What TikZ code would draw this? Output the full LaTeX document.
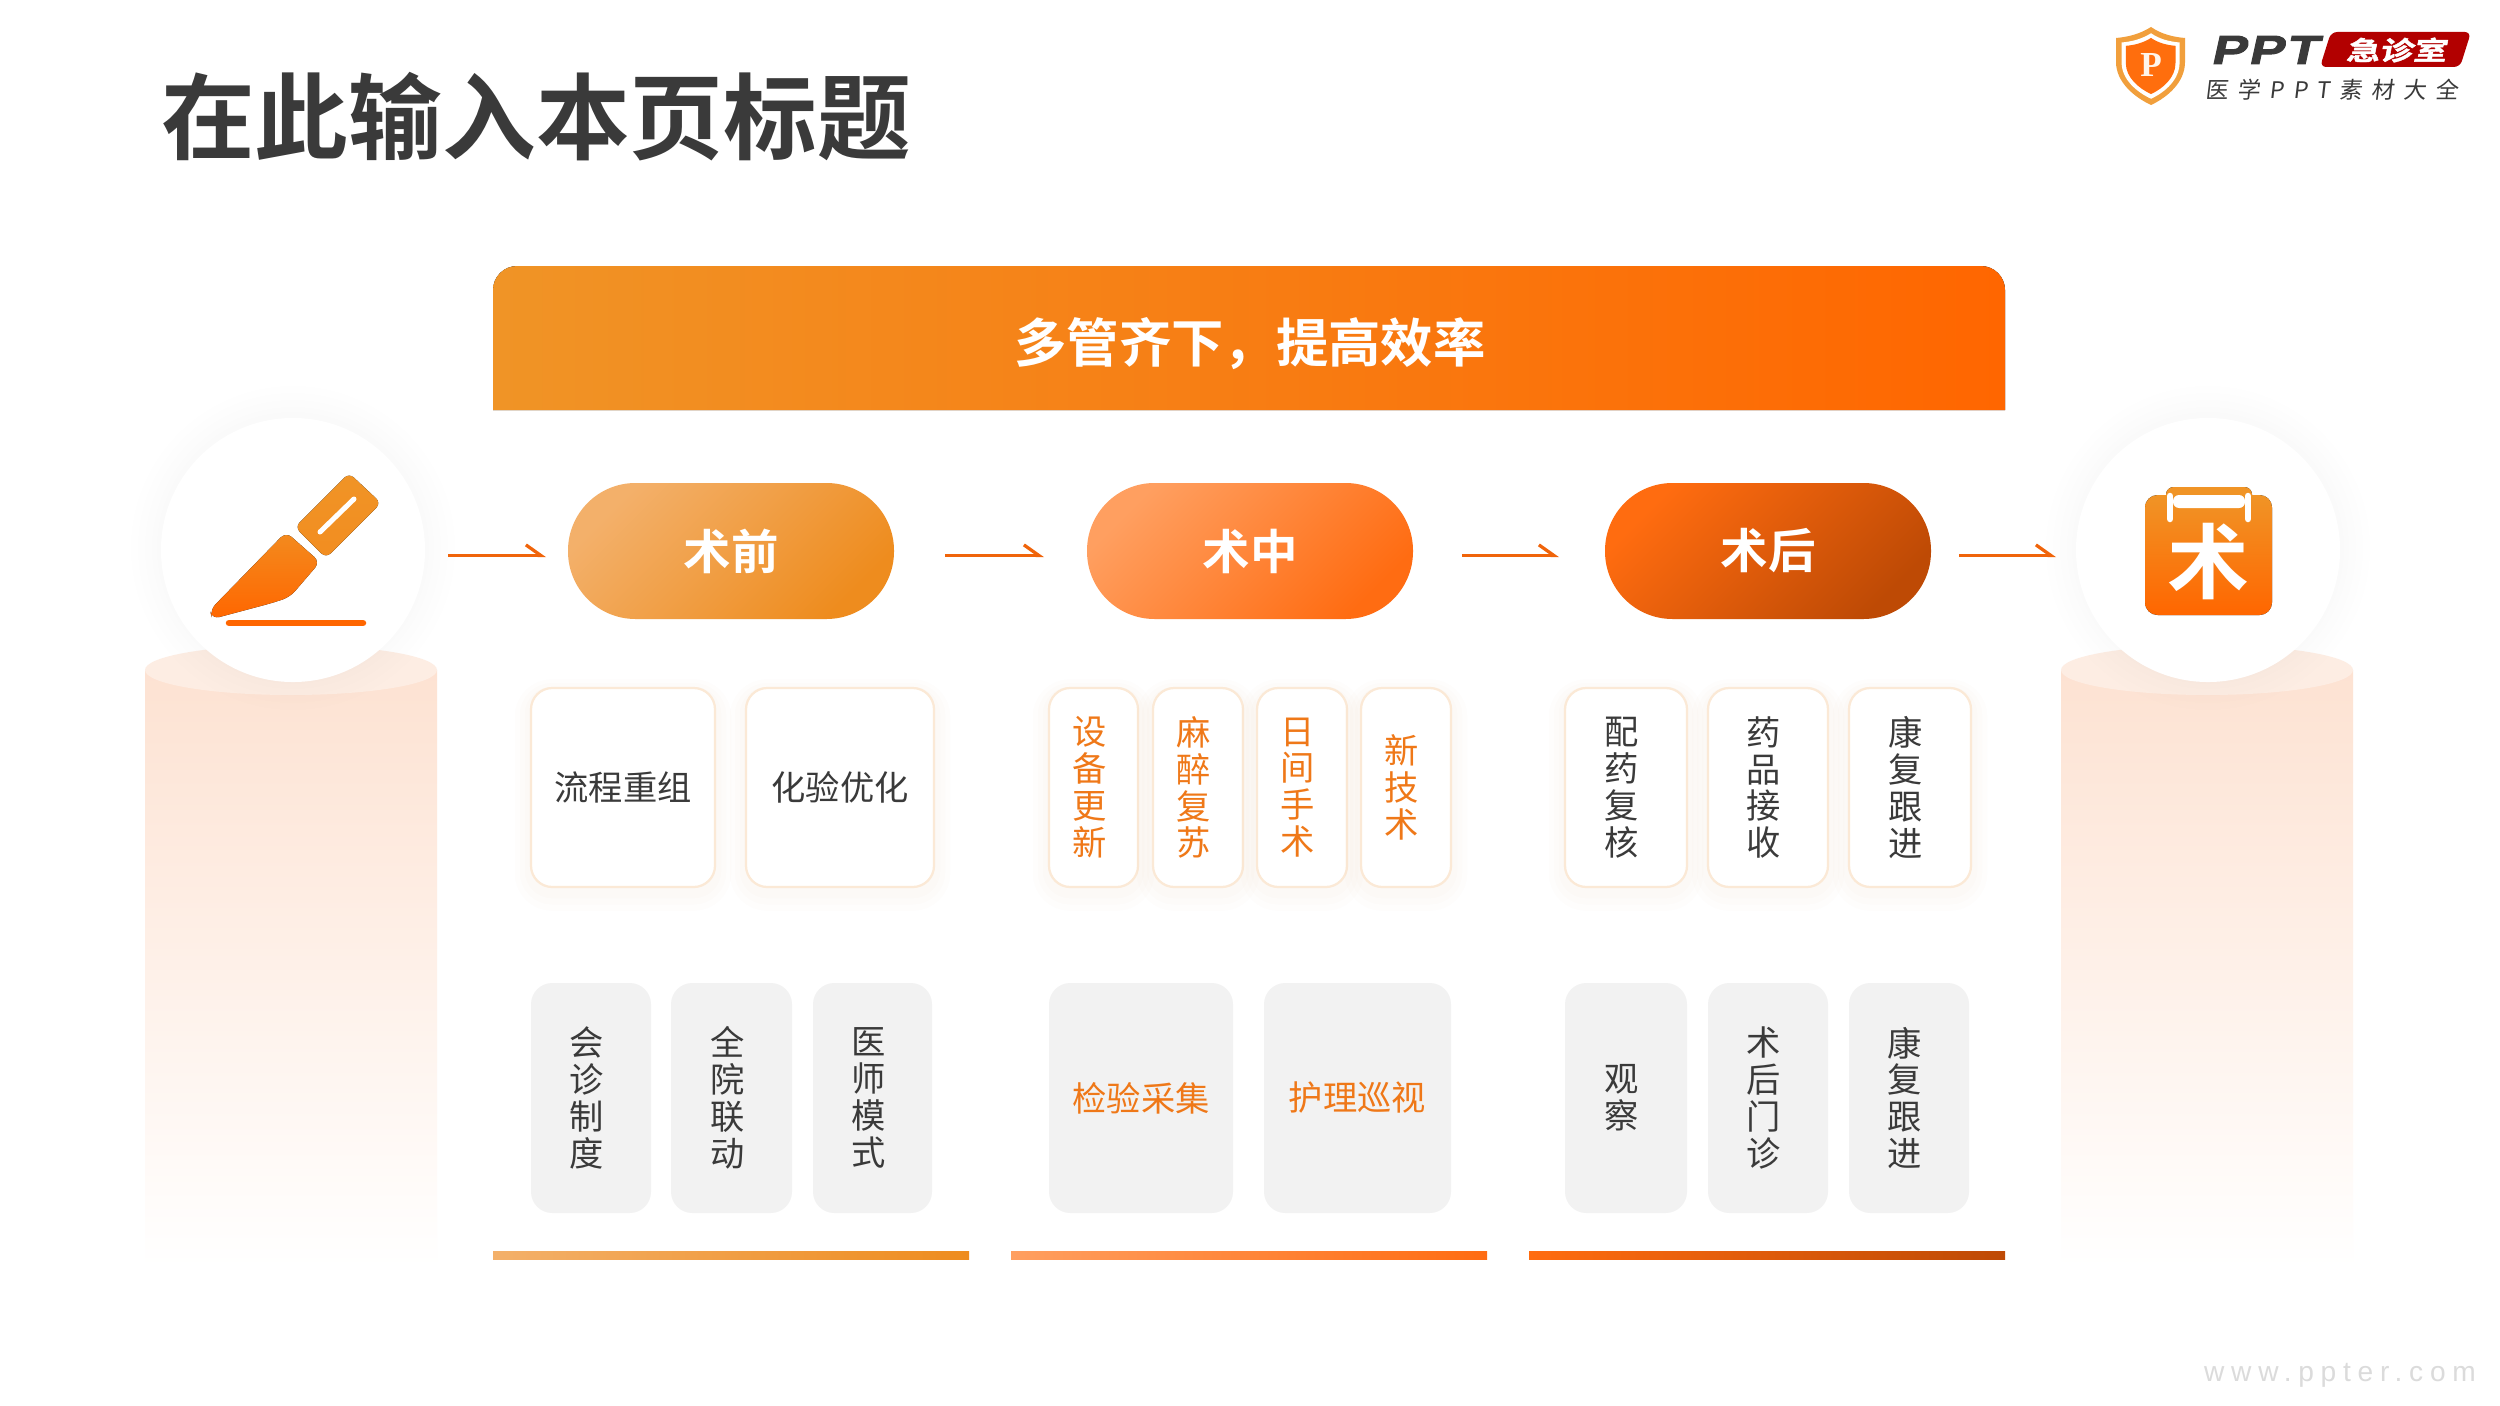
\documentclass[tikz,border=0pt]{standalone}
\usepackage{fontspec}
\usetikzlibrary{arrows.meta}
\setmainfont{Liberation Sans}
\newfontfamily\cjk{Noto Sans CJK SC}
\newfontfamily\cjkb{Noto Sans CJK SC Bold}
\newfontfamily\cjklogo[FakeSlant=0.15,FakeBold=1.5]{Noto Sans CJK SC Bold}
\newfontfamily\cjksub[FakeSlant=0.12,LetterSpace=40]{Noto Sans CJK SC}
\newfontfamily\logolat[FakeSlant=0.22,FakeStretch=1.3,LetterSpace=6,FakeBold=2.5]{Liberation Sans Bold}
\newfontfamily\pserif{Liberation Serif Bold}
\newfontfamily\wmfont[LetterSpace=24]{Liberation Sans}
\definecolor{ink}{HTML}{3A3A3A}
\definecolor{hot}{HTML}{EF7818}
\definecolor{line}{HTML}{F0640A}
\definecolor{ringc}{HTML}{FBE9D6}
\definecolor{grayb}{HTML}{F2F2F2}
\definecolor{aa}{HTML}{F3B06A}\definecolor{ab}{HTML}{EE8C1E}
\definecolor{ba}{HTML}{FF9F60}\definecolor{bb}{HTML}{FF6C12}
\definecolor{ca}{HTML}{FF6C10}\definecolor{cb}{HTML}{BE4A05}
\definecolor{ha}{HTML}{F09426}\definecolor{hb}{HTML}{FF6600}
\definecolor{peda}{HTML}{FDE2D2}\definecolor{pedb}{HTML}{FDEDE3}
\tikzset{
  softbox/.style={rectangle,rounded corners=0.85cm,fill=white,draw=ringc,line width=0.09cm,
    font=\fontsize{39}{41}\cjk,text=ink,
    preaction={draw=hot,draw opacity=0.010,line width=1.3cm,fill=none,transform canvas={yshift=-0.3cm}},
    preaction={draw=hot,draw opacity=0.010,line width=0.9cm,fill=none,transform canvas={yshift=-0.25cm}},
    preaction={draw=hot,draw opacity=0.012,line width=0.5cm,fill=none,transform canvas={yshift=-0.2cm}}},
  graybox/.style={rectangle,rounded corners=0.85cm,fill=grayb,font=\fontsize{39}{41}\cjk,text=ink},
  hottext/.style={text=hot},
  pill/.style={rectangle,rounded corners=2.7cm,font=\fontsize{54}{56}\cjkb,text=white,shading angle=45},
  harrow/.style={draw=line,line width=0.13cm,-{Straight Barb[harpoon,length=0.6cm,width=0.85cm,line width=0.13cm]}},
  whitecirc/.style={circle,fill=white,minimum size=10.56cm,inner sep=0},
  bar/.style={rectangle,inner sep=0,minimum height=0.32cm},
}
\newcommand\bx[7]{%
  \pgfmathsetmacro\bxw{(#3-#2)*0.04}%
  \pgfmathsetmacro\bxh{(#5-#4)*0.04}%
  \pgfmathsetmacro\bxx{(#3+#2)/2}%
  \pgfmathsetmacro\bxy{(#5+#4)/2}%
  \node[#6,inner sep=0,minimum width=\bxw cm,minimum height=\bxh cm] (#1) at (\bxx,\bxy) {#7};}
% vertical text: stack of characters at a fixed pitch, nudged left inside its box
\newcommand\vt[1]{\hbox{\vbox{\let\\\cr\baselineskip=42pt\lineskip=0pt\lineskiplimit=-1000pt\halign{\hfil##\hfil\cr#1\crcr}}\kern0.32cm}}
\newcommand\shieldp{(2151,27) .. controls (2140,34) and (2128,37) .. (2116,38) -- (2116,62) .. controls (2116,82) and (2134,97) .. (2151,105) .. controls (2168,97) and (2185,82) .. (2185,62) -- (2185,38) .. controls (2173,37) and (2161,34) .. (2151,27) -- cycle}
\begin{document}
\begin{tikzpicture}[x=0.04cm,y=-0.04cm]
\useasboundingbox (0,0) rectangle (2500,1406);
\fill[white] (0,0) rectangle (2500,1406);
% title
\node[anchor=center,font=\fontsize{106.6}{110}\cjkb,text=ink,inner sep=0] (title) at (536,116.5) {在此输入本页标题};
% logo
\fill[ha!90!white] \shieldp;
\fill[white,scale around={0.84:(2151,66)}] \shieldp;
\fill[hb!95!white,scale around={0.72:(2151,66)}] \shieldp;
\node[font=\fontsize{40}{40}\pserif,text=white!92!orange,inner sep=0] (logop) at (2151,65) {P};
\node[font=\fontsize{46}{46}\logolat,text=ink,inner sep=0] (logoppt) at (2264,50) {PPT};
\fill[fill=red!70!black,rounded corners=0.25cm] (2331,32) -- (2471,32) -- (2460,67) -- (2320,67) -- cycle;
\node[font=\fontsize{38}{38}\cjklogo,text=white,inner sep=0,yscale=0.78] (logojz) at (2396,50) {急诊室};
\node[font=\fontsize{26}{26}\cjksub,text=ink,inner sep=0] (logosub) at (2332,90) {医学PPT素材大全};
% header band
\fill[left color=ha,right color=hb,rounded corners=0.96cm] (493,410) [sharp corners] -- (493,400) [rounded corners=0.96cm] -- (493,266) -- (2005,266) [sharp corners] -- (2005,410) -- cycle;
\node[font=\fontsize{59.6}{62}\cjkb,text=white,inner sep=0] (head) at (1250,343.5) {多管齐下，提高效率};
% pedestals
\fill[top color=peda,bottom color=white] (145,670) rectangle (437,1268);
\fill[pedb] (291,670) ellipse [x radius=146,y radius=25];
\fill[top color=peda,bottom color=white] (2061,670) rectangle (2353,1268);
\fill[pedb] (2207,670) ellipse [x radius=146,y radius=25];
% icon circles
\foreach \cx in {293,2208}{
  \foreach \r in {162,155,148,141,136}{
    \fill[hot,opacity=0.003] (\cx,548) circle (\r);
  }
}
\node[whitecirc] (cl) at (293,550) {};
\node[whitecirc] (cr) at (2208,550) {};
% scalpel
\fill[top color=ha,bottom color=ha!85!hb,rounded corners=0.26cm] (349,473) -- (381,503) -- (326,558) -- (295,527) -- cycle;
\draw[white,line width=0.2cm,line cap=round] (320,532) -- (354,499);
\fill[top color=ha!80!hb,bottom color=hb,rounded corners=0.3cm] (286,532) -- (320,562) -- (290,597) -- (272,603) -- (212,619) -- (210,610) -- cycle;
\draw[hb,line width=0.26cm,line cap=round] (229,623) -- (363,623);
% surgery badge
\fill[top color=ha,bottom color=ha,rounded corners=0.3cm] (2166,487) rectangle (2252,515);
\fill[top color=ha,bottom color=hb,rounded corners=0.5cm] (2145,495) rectangle (2272,615);
\draw[white,line width=0.26cm,line cap=round] (2170,496) -- (2170,519);
\draw[white,line width=0.26cm,line cap=round] (2248,496) -- (2248,519);
\fill[white,rounded corners=0.24cm] (2173,495) rectangle (2245,508);
\node[font=\fontsize{93}{93}\cjkb,text=white,inner sep=0] (shu) at (2208,562) {术};
% phase pills
\bx{pre}{568}{894}{483}{619}{pill,top color=aa,bottom color=ab,shading angle=45}{术前}
\bx{mid}{1087}{1413}{483}{619}{pill,top color=ba,bottom color=bb,shading angle=45}{术中}
\bx{post}{1605}{1931}{483}{619}{pill,top color=ca,bottom color=cb,shading angle=45}{术后}
% arrows
\coordinate (a1s) at (448,555.5); \coordinate (a1e) at (546,555.5);
\coordinate (a2s) at (945,555.5); \coordinate (a2e) at (1044,555.5);
\coordinate (a3s) at (1462,555.5); \coordinate (a3e) at (1559,555.5);
\coordinate (a4s) at (1959,555.5); \coordinate (a4e) at (2056,555.5);
\draw[harrow] (a1s) -- (a1e);
\draw[harrow] (a2s) -- (a2e);
\draw[harrow] (a3s) -- (a3e);
\draw[harrow] (a4s) -- (a4e);
% row 1
\bx{r1a}{531}{715}{688}{887}{softbox}{流程重组}
\bx{r1b}{746}{934}{688}{887}{softbox}{化验优化}
\bx{r1c}{1049}{1138}{688}{887}{softbox,hottext}{\vt{设\\备\\更\\新}}
\bx{r1d}{1153}{1243}{688}{887}{softbox,hottext}{\vt{麻\\醉\\复\\苏}}
\bx{r1e}{1257}{1347}{688}{887}{softbox,hottext}{\vt{日\\间\\手\\术}}
\bx{r1f}{1361}{1451}{688}{887}{softbox,hottext}{\vt{新\\技\\术}}
\bx{r1g}{1565}{1687}{688}{887}{softbox}{\vt{配\\药\\复\\核}}
\bx{r1h}{1708}{1828}{688}{887}{softbox}{\vt{药\\品\\接\\收}}
\bx{r1i}{1849}{1971}{688}{887}{softbox}{\vt{康\\复\\跟\\进}}
% row 2
\bx{r2a}{531}{651}{983}{1213}{graybox}{\vt{会\\诊\\制\\度}}
\bx{r2b}{671}{792}{983}{1213}{graybox}{\vt{全\\院\\联\\动}}
\bx{r2c}{813}{932}{983}{1213}{graybox}{\vt{医\\师\\模\\式}}
\bx{r2d}{1049}{1233}{983}{1213}{graybox,hottext}{检验采集}
\bx{r2e}{1264}{1451}{983}{1213}{graybox,hottext}{护理巡视}
\bx{r2f}{1565}{1687}{983}{1213}{graybox}{\vt{观\\察}}
\bx{r2g}{1708}{1828}{983}{1213}{graybox}{\vt{术\\后\\门\\诊}}
\bx{r2h}{1849}{1969}{983}{1213}{graybox}{\vt{康\\复\\跟\\进}}
% bottom bars
\bx{b1}{493}{969}{1251}{1259}{bar,left color=aa,right color=ab}{}
\bx{b2}{1011}{1487}{1251}{1259}{bar,left color=ba,right color=bb}{}
\bx{b3}{1529}{2005}{1251}{1259}{bar,left color=ca,right color=cb}{}
% watermark
\node[font=\fontsize{32}{32}\wmfont,text=black!14,inner sep=0] (wm) at (2340,1375) {www.ppter.com};
\end{tikzpicture}
\end{document}
